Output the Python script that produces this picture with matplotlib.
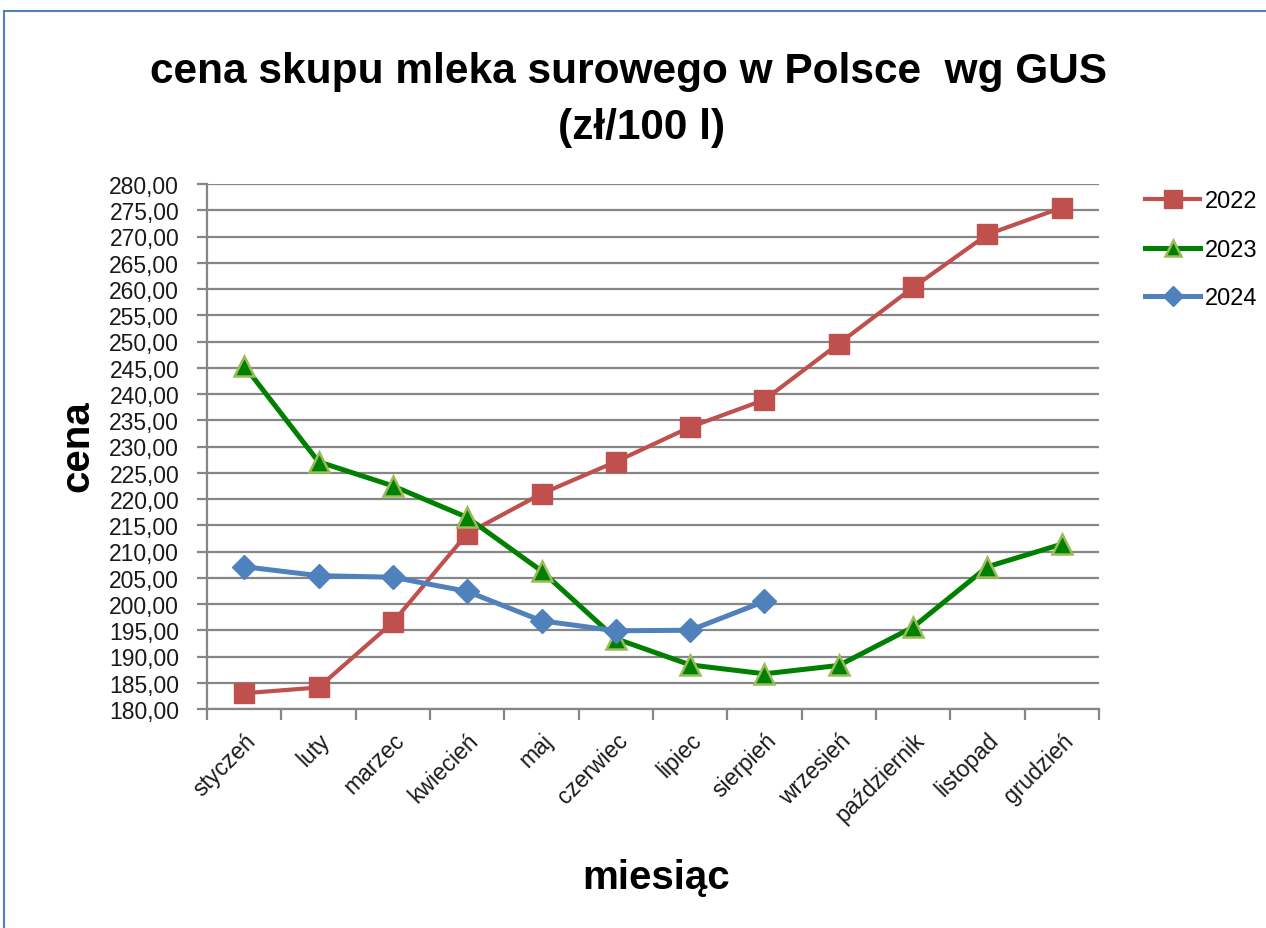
import matplotlib
matplotlib.use("Agg")
import matplotlib.pyplot as plt
from matplotlib.lines import Line2D
import numpy as np

months = ["styczeń", "luty", "marzec", "kwiecień", "maj", "czerwiec", "lipiec",
          "sierpień", "wrzesień", "październik", "listopad", "grudzień"]
v2022 = [183.0, 184.1, 196.5, 213.4, 221.0, 227.1, 233.7, 238.9, 249.6, 260.3, 270.4, 275.5]
v2023 = [245.4, 227.1, 222.5, 216.5, 206.3, 193.4, 188.4, 186.7, 188.3, 195.6, 207.1, 211.4]
v2024 = [207.1, 205.4, 205.1, 202.4, 196.8, 194.9, 195.0, 200.5]
yticks = np.arange(180, 281, 5)

W, H = 1266, 929
fig = plt.figure(figsize=(W / 100, H / 100), dpi=100)
font = "Liberation Sans"

ax = fig.add_axes([207 / W, 1 - 710 / H, (1099 - 207) / W, (710 - 185) / H])

x = np.arange(len(months))
ax.plot(x, v2022, color="#C0504D", lw=3.0, marker="s", ms=15, mfc="#C0504D",
        mec="#C0504D", label="2022", zorder=3)
ax.plot(x, v2023, color="#008000", lw=3.6, marker="^", ms=14, mfc="#008000",
        mec="#9BBB59", mew=1.8, label="2023", zorder=3)
ax.plot(x[:len(v2024)], v2024, color="#4F81BD", lw=3.6, marker="D", ms=12,
        mfc="#4F81BD", mec="#4F81BD", label="2024", zorder=4)

ax.set_xlim(-0.5, 11.5)
ax.set_ylim(180, 280)
ax.set_yticks(yticks)
ax.set_yticklabels([f"{v:.2f}".replace(".", ",") for v in yticks],
                   fontsize=16.5, family=font, color="#1a1a1a")
ax.yaxis.grid(True, color="#868686", lw=1.6)
ax.set_axisbelow(True)

ax.set_xticks(x)
ax.set_xticklabels(months, rotation=45, ha="right", rotation_mode="anchor",
                   fontsize=16.5, family=font, color="#1a1a1a")
ax.tick_params(axis="x", length=0, pad=14)
ax.set_xticks(np.arange(-0.5, 12, 1), minor=True)
ax.tick_params(axis="x", which="minor", length=8, width=1.6, color="#868686")
ax.tick_params(axis="y", length=7, width=1.6, color="#868686", pad=13)

for s in ["top", "right"]:
    ax.spines[s].set_visible(False)
for s in ["left", "bottom"]:
    ax.spines[s].set_color("#868686")
    ax.spines[s].set_linewidth(1.6)

fig.text(628 / W, 1 - 72 / H, "cena skupu mleka surowego w Polsce  wg GUS",
         ha="center", va="center", fontsize=30.5, fontweight="bold", family=font)
fig.text(642 / W, 1 - 128 / H, "(zł/100 l)",
         ha="center", va="center", fontsize=30.5, fontweight="bold", family=font)
fig.text(77 / W, 1 - 446 / H, "cena", rotation=90, ha="center", va="center",
         fontsize=29, fontweight="bold", family=font)
fig.text(656 / W, 1 - 878 / H, "miesiąc", ha="center", va="center",
         fontsize=29, fontweight="bold", family=font)

leg = fig.legend(loc="upper left", bbox_to_anchor=(1136 / W, 1 - 182 / H),
                 frameon=False, prop={"family": font, "size": 17},
                 handlelength=2.3, labelspacing=1.12, handletextpad=0.2,
                 borderaxespad=0, markerscale=0.85)

# outer border of the chart area
fig.add_artist(Line2D([4 / W, 4 / W], [0, 1 - 12 / H], color="#4F81BD",
                      lw=1.5, transform=fig.transFigure))
fig.add_artist(Line2D([4 / W, 1], [1 - 12 / H, 1 - 12 / H], color="#4F81BD",
                      lw=1.5, transform=fig.transFigure))

fig.savefig("out.png", dpi=100)
